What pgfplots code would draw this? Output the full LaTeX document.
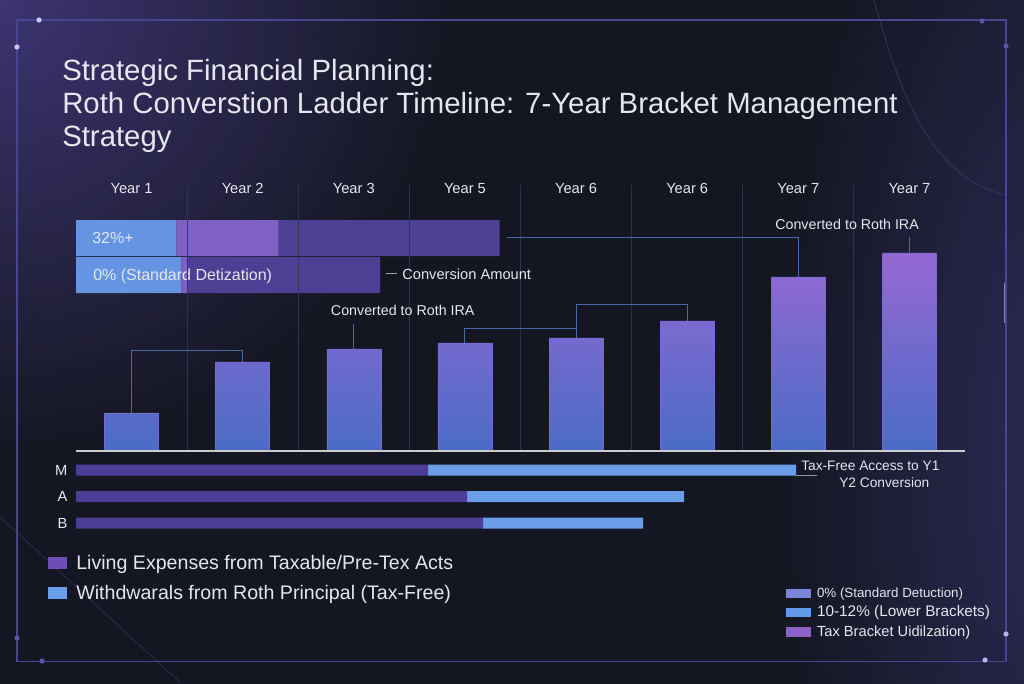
\documentclass[border=0pt]{standalone}
\usepackage{fontspec}
\setmainfont{Liberation Sans}
\usepackage{pgfplots}
\pgfplotsset{compat=1.18}

\definecolor{bg}{HTML}{141621}
\definecolor{glow}{HTML}{3D3472}
\definecolor{glowR}{HTML}{2E2A58}
\definecolor{framec}{HTML}{4A4590}
\definecolor{dotc}{HTML}{5C52AA}
\definecolor{dotl}{HTML}{D2C8FA}
\definecolor{txt}{HTML}{E6E6EE}
\definecolor{gridc}{HTML}{30365A}
\definecolor{conn}{HTML}{4A68A8}
\definecolor{barTop}{HTML}{9668D4}
\definecolor{barBot}{HTML}{4A6CC6}
\definecolor{segBlue}{HTML}{6494E2}
\definecolor{segPurple}{HTML}{8060C2}
\definecolor{segDark}{HTML}{4D3F93}
\definecolor{livPurple}{HTML}{4E3D96}
\definecolor{rothBlue}{HTML}{6A9EE8}
\definecolor{legPurple}{HTML}{6E4EB4}
\definecolor{brkZero}{HTML}{7A86D8}
\definecolor{brkLow}{HTML}{5E9AE8}
\definecolor{brkUse}{HTML}{8A62C8}

\begin{document}
\begin{tikzpicture}[x=0.75pt,y=0.75pt]
\useasboundingbox (0,0) rectangle (1024,683);
% backdrop (slightly oversized so the page edges stay dark)
\fill[bg] (-3,-3) rectangle (1027,686);
\begin{scope}
  \clip (0,0) rectangle (1024,683);
  \shade[inner color=glow, outer color=bg] (0,683) circle (460);
  \shade[inner color=glowR, outer color=bg] (1070,230) ellipse (300 and 760);
  \draw[framec!60!bg, line width=0.6pt] (874,683) .. controls (900,590) and (930,505) .. (1006,488);
  \draw[framec!45!bg, line width=0.6pt] (0,166) .. controls (60,112) and (120,55) .. (181,0);
  \draw[white!70!framec, line width=0.8pt, opacity=0.6] (1005,400) -- (1005,360);
\end{scope}
% frame with corner dots
\draw[framec, line width=0.8pt] (17,663) rectangle (1006,21.5);
\fill[dotl] (39,663) circle (2.6) (17,636) circle (2.6);
\fill[dotc] (982,662) circle (2.6) (1006,637) circle (2.6);
\fill[dotc] (17,45) circle (2.6) (42,22) circle (2.6);
\fill[dotl!80!dotc] (1006,49) circle (2.6) (985,23) circle (2.6);

% title
\node[anchor=base west, inner sep=0, text=txt, font=\fontsize{22}{26}\selectfont] at (62,602.6) {Strategic Financial Planning:};
\node[anchor=base west, inner sep=0, text=txt, font=\fontsize{22}{26}\selectfont] at (62,569.7) {Roth Converstion Ladder Timeline: 7-Year Bracket Management};
\node[anchor=base west, inner sep=0, text=txt, font=\fontsize{22}{26}\selectfont] at (62,536.6) {Strategy};

% bracket bands (stacked)
\begin{axis}[
  at={(57pt,292.125pt)}, anchor=south west, scale only axis,
  width=666.75pt, height=55.5pt,
  xmin=0, xmax=100, ymin=-0.5, ymax=1.5, enlargelimits=false,
  xbar stacked, bar width=0.973,
  hide axis, clip=false,
  legend image code/.code={\fill[#1] (0pt,-3.5pt) rectangle (18.75pt,3.5pt);},
  legend cell align=left,
  legend style={at={(0.7987,-3.973)}, anchor=north west, draw=none, fill=none,
    inner sep=0pt, outer sep=0pt, text=txt, row sep=5pt,
    nodes={inner sep=0pt},
    /tikz/every odd column/.append style={column sep=4.5pt}},
]
\addlegendimage{fill=brkZero, draw=none}
\addlegendentry{\fontsize{10}{12}\selectfont 0\% (Standard Detuction)}
\addlegendimage{fill=brkLow, draw=none}
\addlegendentry{\fontsize{11.5}{13}\selectfont 10-12\% (Lower Brackets)}
\addlegendimage{fill=brkUse, draw=none}
\addlegendentry{\fontsize{11}{13}\selectfont Tax Bracket Uidilzation)}
\addplot[fill=segBlue, draw=none] coordinates {(11.29,1) (11.86,0)};
\addplot[fill=segPurple, draw=none] coordinates {(11.50,1) (0.69,0)};
\addplot[fill=segDark, draw=none] coordinates {(24.86,1) (21.65,0)};
\end{axis}
\node[anchor=base west, inner sep=0, text=txt, font=\fontsize{12}{14}\selectfont] at (92,439.3) {32\%+};
\node[anchor=base west, inner sep=0, text=txt, font=\fontsize{12}{14}\selectfont] at (93,402.3) {0\% (Standard Detization)};

% yearly conversion bars
\begin{axis}[
  at={(57pt,174pt)}, anchor=south west, scale only axis,
  width=666.75pt, height=199.5pt,
  xmin=-0.5, xmax=7.5, ymin=0, ymax=266, enlargelimits=false,
  axis line style={draw=none},
  ytick=\empty,
  xtick={0,...,7},
  xticklabels={Year 1,Year 2,Year 3,Year 5,Year 6,Year 6,Year 7,Year 7},
  xticklabel pos=upper,
  xticklabel style={anchor=base, yshift=-6.2pt, text=txt, font=\fontsize{11}{13}\selectfont},
  major tick length=0pt, minor tick length=0pt,
  minor xtick={0.5,1.5,2.5,3.5,4.5,5.5,6.5},
  xminorgrids=true,
  minor x grid style={gridc, line width=0.75pt, opacity=0.9},
  clip=false,
  ybar, bar width=0.486,
]
\addplot[draw=barTop!60!barBot, line width=0.4pt, top color=barTop, bottom color=barBot]
  coordinates {(0,38) (1,89) (2,102) (3,108) (4,113) (5,130) (6,174) (7,198)};
% connectors
\draw[conn, line width=0.75pt] (axis cs:0,38) |- (axis cs:1,100) -- (axis cs:1,89);
\draw[conn, line width=0.75pt] (axis cs:3,108) |- (axis cs:4,122);
\draw[conn, line width=0.75pt] (axis cs:4,113) |- (axis cs:5,146) -- (axis cs:5,130);
\draw[conn, line width=0.75pt] (axis cs:2,102) -- (axis cs:2,127);
\draw[conn, line width=0.75pt] (axis cs:3.378,213) -| (axis cs:6,174);
\draw[conn, line width=0.75pt] (axis cs:7,198) -- (axis cs:7,214);
\draw[white!60!bg, line width=0.75pt] (axis cs:2.29,177) -- (axis cs:2.39,177);
% baseline
\draw[white!78!bg, line width=1.5pt] (axis cs:-0.5,0) -- (axis cs:7.5,0);
\end{axis}
\node[anchor=base west, inner sep=0, text=txt, font=\fontsize{11}{13}\selectfont] at (402,403.7) {Conversion Amount};
\node[anchor=base west, inner sep=0, text=txt, font=\fontsize{10.7}{13}\selectfont] at (775,453) {Converted to Roth IRA};
\node[anchor=base west, inner sep=0, text=txt, font=\fontsize{10.7}{13}\selectfont] at (330.7,368) {Converted to Roth IRA};

% withdrawal mix per scenario
\begin{axis}[
  at={(57pt,110.0625pt)}, anchor=south west, scale only axis,
  width=666.75pt, height=59.625pt,
  xmin=0, xmax=100, ymin=-0.5, ymax=2.5, enlargelimits=false,
  xbar stacked, bar width=0.415,
  axis line style={draw=none},
  xtick=\empty, ytick={0,1,2}, yticklabels={B,A,M},
  major tick length=0pt,
  yticklabel style={text=txt, font=\fontsize{11}{13}\selectfont, xshift=-3pt},
  clip=false,
  legend image code/.code={\fill[#1] (0pt,-4.5pt) rectangle (14.25pt,4.5pt);},
  legend cell align=left,
  legend style={at={(-0.0315,-0.236)}, anchor=north west, draw=none, fill=none,
    inner sep=0pt, outer sep=0pt, text=txt, row sep=10.2pt,
    font=\fontsize{14.7}{17}\selectfont,
    nodes={inner sep=0pt},
    /tikz/every odd column/.append style={column sep=7pt}},
]
\addlegendimage{fill=legPurple, draw=none}
\addlegendentry{Living Expenses from Taxable/Pre-Tex Acts}
\addlegendimage{fill=rothBlue, draw=none}
\addlegendentry{Withdwarals from Roth Principal (Tax-Free)}
\addplot[fill=livPurple, draw=none] coordinates {(45.8,0) (44.0,1) (39.6,2)};
\addplot[fill=rothBlue, draw=none] coordinates {(18.0,0) (24.4,1) (41.4,2)};
\draw[white!55!bg, line width=0.6pt] (axis cs:81.0,1.81) -- (axis cs:83.3,1.81);
\end{axis}
\node[anchor=base west, inner sep=0, text=txt, font=\fontsize{10.3}{12}\selectfont] at (801,213) {Tax-Free Access to Y1};
\node[anchor=base west, inner sep=0, text=txt, font=\fontsize{10.3}{12}\selectfont] at (839,195.4) {Y2 Conversion};
\end{tikzpicture}
\end{document}
